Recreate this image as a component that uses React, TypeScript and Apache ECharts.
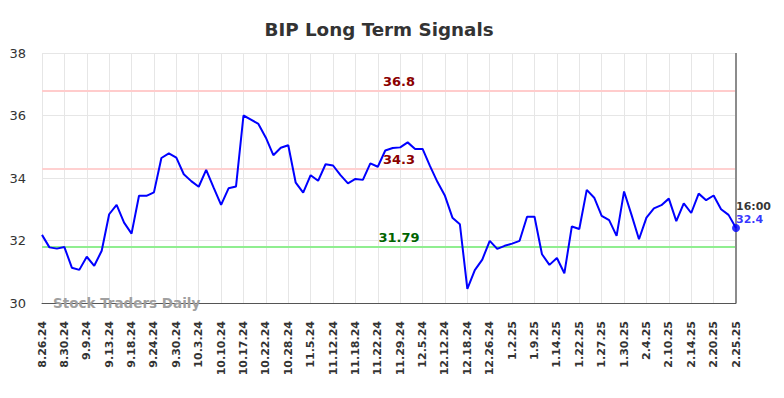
import React, { useEffect, useRef } from "react";
import * as echarts from "echarts";

const tickLabels = [
  "8.26.24", "8.30.24", "9.9.24", "9.13.24", "9.18.24", "9.24.24", "9.30.24", "10.3.24",
  "10.10.24", "10.17.24", "10.22.24", "10.28.24", "11.5.24", "11.12.24", "11.18.24", "11.22.24",
  "11.29.24", "12.5.24", "12.12.24", "12.18.24", "12.26.24", "1.2.25", "1.9.25", "1.14.25",
  "1.22.25", "1.27.25", "1.30.25", "2.4.25", "2.10.25", "2.14.25", "2.20.25", "2.25.25",
];

const prices = [
  32.18, 31.78, 31.74, 31.79, 31.13, 31.06, 31.48, 31.19, 31.67, 32.84,
  33.14, 32.57, 32.22, 33.43, 33.43, 33.54, 34.64, 34.79, 34.65, 34.12,
  33.9, 33.72, 34.26, 33.69, 33.14, 33.67, 33.73, 36.0, 35.87, 35.73,
  35.29, 34.73, 34.97, 35.05, 33.85, 33.53, 34.09, 33.91, 34.44, 34.4,
  34.09, 33.83, 33.97, 33.94, 34.47, 34.36, 34.88, 34.96, 34.98, 35.14,
  34.93, 34.93, 34.38, 33.87, 33.43, 32.73, 32.52, 30.45, 31.05, 31.39,
  31.99, 31.73, 31.83, 31.9, 31.99, 32.76, 32.76, 31.56, 31.22, 31.44,
  30.95, 32.45, 32.37, 33.62, 33.37, 32.79, 32.65, 32.15, 33.57, 32.82,
  32.04, 32.73, 33.03, 33.13, 33.34, 32.62, 33.19, 32.88, 33.5, 33.29,
  33.44, 33.0, 32.82, 32.4,
];

const labelStep = 3;
const upperSignal = 36.8;
const middleSignal = 34.3;
const lowerSignal = 31.79;
const lastTime = "16:00";
const yMin = 30;
const yMax = 38;
const yInterval = 2;

const FONT = "DejaVu Sans";

function signalLabel(value: number, color: string) {
  return {
    formatter: String(value),
    position: "insideMiddleTop",
    color,
    fontFamily: FONT,
    fontSize: 13,
    fontWeight: "bold",
    distance: 3,
    offset: [10, 0],
  };
}

export default function App() {
  const ref = useRef<HTMLDivElement>(null);
  useEffect(() => {
    if (!ref.current) return;
    const chart = echarts.init(ref.current, undefined, { renderer: "svg" });
    const categories = prices.map((_, i) =>
      i % labelStep === 0 ? tickLabels[i / labelStep] : ""
    );
    const lastIdx = prices.length - 1;
    const lastVal = prices[lastIdx];
    const lastPoint = prices.map((v, i) => (i === lastIdx ? v : null));

    chart.setOption({
      animation: false,
      backgroundColor: "#ffffff",
      title: {
        text: "BIP Long Term Signals",
        left: 374,
        textAlign: "center",
        top: 15,
        textStyle: { fontFamily: FONT, fontSize: 18.3, fontWeight: "bold", color: "#333333" },
      },
      grid: { left: 42, right: 48, top: 53, bottom: 95, containLabel: false },
      xAxis: {
        type: "category",
        data: categories,
        boundaryGap: false,
        axisLine: { show: true, lineStyle: { color: "#555555", width: 1 } },
        axisTick: { show: false },
        axisLabel: {
          interval: labelStep - 1,
          rotate: 90,
          margin: 18,
          fontFamily: FONT,
          fontSize: 11,
          fontWeight: "bold",
          color: "#333333",
        },
        splitLine: {
          show: true,
          interval: labelStep - 1,
          lineStyle: { color: "#e6e6e6", width: 1 },
        },
      },
      yAxis: {
        type: "value",
        min: yMin,
        max: yMax,
        interval: yInterval,
        axisLine: { show: false },
        axisTick: { show: false },
        axisLabel: { fontFamily: FONT, fontSize: 13, color: "#333333", margin: 16 },
        splitLine: { show: true, lineStyle: { color: "#e6e6e6", width: 1 } },
      },
      series: [
        {
          type: "line",
          data: prices,
          symbol: "none",
          lineStyle: { color: "#0000ff", width: 2 },
          z: 5,
          markLine: {
            silent: true,
            symbol: "none",
            data: [
              {
                yAxis: upperSignal,
                lineStyle: { color: "#ffcccc", width: 2, type: "solid" },
                label: signalLabel(upperSignal, "#8b0000"),
              },
              {
                yAxis: middleSignal,
                lineStyle: { color: "#ffd0d0", width: 2, type: "solid" },
                label: signalLabel(middleSignal, "#8b0000"),
              },
              {
                yAxis: lowerSignal,
                lineStyle: { color: "#90ee90", width: 2, type: "solid" },
                label: signalLabel(lowerSignal, "#006400"),
              },
              {
                xAxis: lastIdx,
                lineStyle: { color: "#8c8c8c", width: 2, type: "solid" },
                label: { show: false },
              },
            ],
          },
        },
        {
          type: "scatter",
          data: lastPoint,
          symbol: "circle",
          symbolSize: 8,
          itemStyle: { color: "#0000ff" },
          z: 6,
          label: {
            show: true,
            position: [4, -24],
            align: "left",
            verticalAlign: "top",
            formatter: () => `{t|${lastTime}}\n{v|${lastVal}}`,
            rich: {
              t: { fontFamily: FONT, fontSize: 11, fontWeight: "bold", color: "#000000", lineHeight: 13 },
              v: { fontFamily: FONT, fontSize: 11, fontWeight: "bold", color: "#0000ff", lineHeight: 13 },
            },
          },
        },
      ],
      graphic: [
        {
          type: "text",
          left: 53,
          top: 296,
          style: {
            text: "Stock Traders Daily",
            fontFamily: FONT,
            fontSize: 13.5,
            fontWeight: "bold",
            fill: "#a0a0a0",
          },
          z: 10,
        },
      ],
    });
    return () => chart.dispose();
  }, []);

  return (
    <div
      ref={ref}
      style={{ position: "fixed", left: 0, top: 0, width: 784, height: 398 }}
    />
  );
}
